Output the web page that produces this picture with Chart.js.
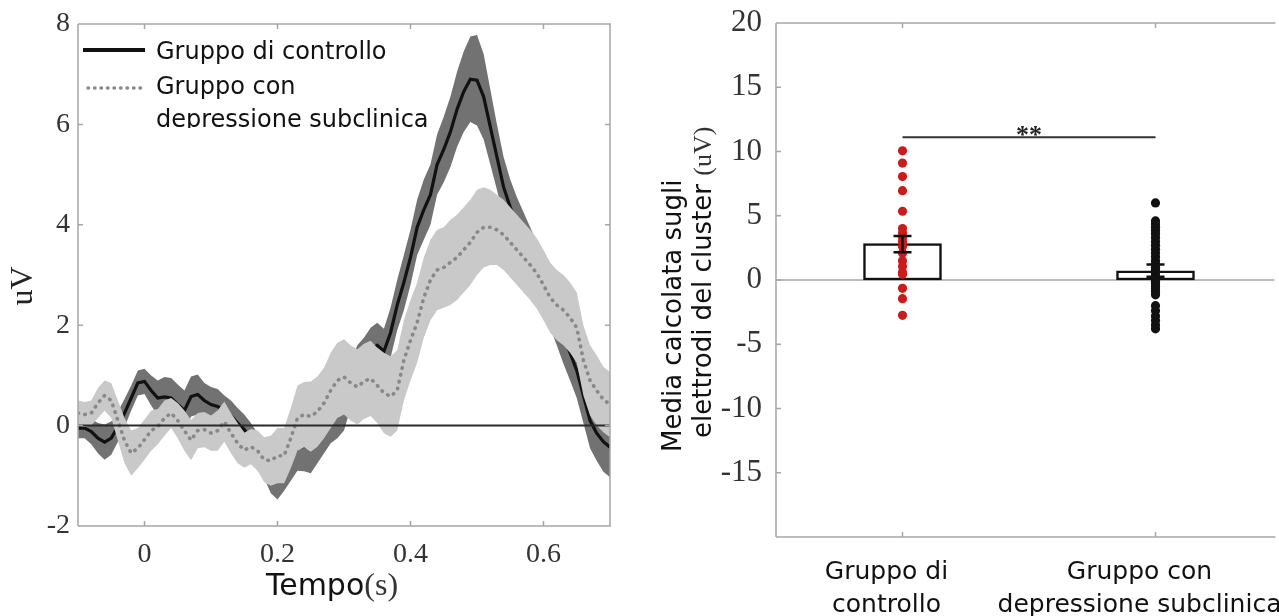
<!DOCTYPE html>
<html>
<head>
<meta charset="utf-8">
<script src="https://cdn.jsdelivr.net/npm/chart.js@4.4.1/dist/chart.umd.min.js"></script>
<style>
  html, body { margin: 0; padding: 0; background: #fff; overflow: hidden; }
  #wrap { position: relative; width: 1279px; height: 616px; }
  #leftBox { position: absolute; left: 0; top: 0; width: 640px; height: 616px; }
  #rightBox { position: absolute; left: 640px; top: 0; width: 639px; height: 616px; }
</style>
</head>
<body>
<div id="wrap">
  <div id="leftBox"><canvas id="erpCanvas" width="640" height="616"></canvas></div>
  <div id="rightBox"><canvas id="barCanvas" width="639" height="616"></canvas></div>
</div>
<script>
// --- ERP (left panel): samples every 10 ms from -0.10 s to 0.70 s ---
const tStart = -0.1;
const tStep = 0.01;

const ctrlMean = [
  -0.05, -0.05, -0.12, -0.25, -0.33, -0.25, -0.02, 0.25, 0.55, 0.85,
  0.88, 0.7, 0.55, 0.57, 0.55, 0.42, 0.3, 0.58, 0.62, 0.5,
  0.42, 0.38, 0.3, 0.2, 0.05, -0.08, -0.25, -0.45, -0.7, -0.95,
  -1.02, -0.85, -0.65, -0.45, -0.41, -0.45, -0.3, -0.1, 0.1, 0.2,
  0.35, 0.8, 1.15, 1.3, 1.5, 1.6, 1.48, 1.85, 2.4, 2.85,
  3.35, 3.95, 4.3, 4.6, 5.2, 5.5, 5.85, 6.3, 6.65, 6.9,
  6.88, 6.55, 5.95, 5.35, 4.75, 4.35, 4.0, 3.7, 3.4, 3.1,
  2.8, 2.5, 2.15, 1.78, 1.45, 1.1, 0.6, 0.1, -0.15, -0.32, -0.43
];
const ctrlSem = [
  0.2, 0.2, 0.25, 0.3, 0.35, 0.33, 0.3, 0.28, 0.25, 0.25,
  0.25, 0.3, 0.35, 0.4, 0.4, 0.4, 0.4, 0.4, 0.4, 0.35,
  0.35, 0.35, 0.3, 0.3, 0.3, 0.3, 0.3, 0.3, 0.35, 0.4,
  0.45, 0.45, 0.45, 0.45, 0.5, 0.5, 0.45, 0.45, 0.45, 0.45,
  0.45, 0.45, 0.45, 0.45, 0.45, 0.45, 0.45, 0.5, 0.5, 0.55,
  0.55, 0.55, 0.6, 0.6, 0.6, 0.65, 0.7, 0.75, 0.8, 0.85,
  0.9, 0.85, 0.75, 0.65, 0.6, 0.55, 0.55, 0.55, 0.55, 0.55,
  0.55, 0.55, 0.55, 0.55, 0.55, 0.55, 0.55, 0.55, 0.55, 0.6, 0.6
];
const depMean = [
  0.25, 0.22, 0.25, 0.45, 0.6, 0.5, 0.1, -0.3, -0.55, -0.45,
  -0.28, -0.1, -0.02, 0.15, 0.25, 0.1, -0.1, -0.29, -0.1, -0.08,
  -0.15, -0.1, 0.08, -0.15, -0.35, -0.49, -0.42, -0.5, -0.68, -0.7,
  -0.6, -0.6, -0.25, 0.15, 0.22, 0.18, 0.28, 0.45, 0.7, 0.9,
  0.97, 0.85, 0.77, 0.88, 0.94, 0.8, 0.65, 0.58, 0.7, 1.3,
  1.7, 2.05, 2.55, 2.9, 3.1, 3.15, 3.25, 3.35, 3.5, 3.65,
  3.85, 3.95, 3.95, 3.9, 3.8, 3.65, 3.5, 3.35, 3.2, 3.03,
  2.8, 2.55, 2.4, 2.3, 2.15, 1.95, 1.3, 0.9, 0.7, 0.52, 0.42
];
const depSem = [
  0.25, 0.25, 0.25, 0.3, 0.3, 0.35, 0.4, 0.45, 0.45, 0.4,
  0.4, 0.4, 0.35, 0.35, 0.3, 0.35, 0.4, 0.4, 0.35, 0.35,
  0.35, 0.4, 0.4, 0.4, 0.4, 0.35, 0.35, 0.4, 0.45, 0.5,
  0.55, 0.55, 0.6, 0.65, 0.65, 0.7, 0.7, 0.7, 0.75, 0.75,
  0.75, 0.75, 0.75, 0.75, 0.75, 0.75, 0.8, 0.8, 0.8, 0.8,
  0.8, 0.8, 0.8, 0.8, 0.8, 0.8, 0.85, 0.85, 0.85, 0.85,
  0.85, 0.8, 0.75, 0.7, 0.7, 0.7, 0.7, 0.7, 0.7, 0.7,
  0.7, 0.7, 0.7, 0.7, 0.7, 0.7, 0.7, 0.7, 0.7, 0.65, 0.65
];
const erpTicksX = [0, 0.2, 0.4, 0.6];
const erpTicksY = [-2, 0, 2, 4, 6, 8];
const erpLegend = ['Gruppo di controllo', 'Gruppo con', 'depressione subclinica'];

// --- Bar panel (right) ---
const groupLabels = [['Gruppo di', 'controllo'], ['Gruppo con', 'depressione subclinica']];
const barMeans = [2.83, 0.72];
const errLow = [2.15, 0.25];
const errHigh = [3.42, 1.2];
const ctrlPoints = [10.05, 9.1, 8.05, 6.95, 5.35, 4.0, 3.65, 3.3, 3.0, 2.6, 2.1, 1.5, 1.05, 0.6, 0.45, -0.65, -1.45, -2.75];
const depPoints = [6.0, 4.6, 4.35, 4.1, 3.85, 3.6, 3.3, 3.0, 2.7, 2.4, 2.1, 1.8, 1.5, 1.25, 1.0, 0.8, 0.55, 0.3, 0.1,
  -0.1, -0.3, -0.5, -0.7, -0.9, -1.15, -2.0, -2.4, -2.8, -3.15, -3.5, -3.8];
const barTicksY = [-20, -15, -10, -5, 0, 5, 10, 15, 20];
const barTickLabels = ['', '-15', '-10', '-5', '0', '5', '10', '15', '20'];
const sigY = 11.1;
const sigText = '**';

const SERIF = '"Liberation Serif", "Times New Roman", serif';
const SANS = '"DejaVu Sans", sans-serif';
const FRAME = '#a6a6a6';

const times = ctrlMean.map((_, i) => +(tStart + i * tStep).toFixed(2));
const toPts = vals => vals.map((v, i) => ({ x: times[i], y: v }));
const ctrlUp = ctrlMean.map((v, i) => v + ctrlSem[i]);
const ctrlLo = ctrlMean.map((v, i) => v - ctrlSem[i]);
const depUp = depMean.map((v, i) => v + depSem[i]);
const depLo = depMean.map((v, i) => v - depSem[i]);

const clear = 'rgba(0,0,0,0)';

// box + inward ticks, shared by both panels
function drawFrame(chart, sides) {
  const { ctx, chartArea: a } = chart;
  const xs = chart.scales.x, ys = chart.scales.y;
  ctx.save();
  ctx.strokeStyle = FRAME;
  ctx.lineWidth = 1.5;
  ctx.beginPath();
  if (sides.top) { ctx.moveTo(a.left, a.top); ctx.lineTo(a.right + 1, a.top); }
  if (sides.left) { ctx.moveTo(a.left, a.top); ctx.lineTo(a.left, a.bottom); }
  if (sides.bottom) { ctx.moveTo(a.left, a.bottom); ctx.lineTo(a.right + 1, a.bottom); }
  if (sides.right) { ctx.moveTo(a.right, a.top); ctx.lineTo(a.right, a.bottom); }
  xs.ticks.forEach(t => {
    const px = xs.getPixelForValue(t.value);
    ctx.moveTo(px, a.bottom); ctx.lineTo(px, a.bottom - 5);
    ctx.moveTo(px, a.top); ctx.lineTo(px, a.top + 5);
  });
  ys.ticks.forEach(t => {
    const py = ys.getPixelForValue(t.value);
    ctx.moveTo(a.left, py); ctx.lineTo(a.left + 5, py);
    if (sides.right) { ctx.moveTo(a.right, py); ctx.lineTo(a.right - 5, py); }
  });
  ctx.stroke();
  ctx.restore();
}

const erpDecor = {
  id: 'erpDecor',
  afterDraw(chart) {
    const { ctx } = chart;
    drawFrame(chart, { top: true, left: true, bottom: true, right: true });

    // legend
    ctx.save();
    ctx.strokeStyle = '#111';
    ctx.lineWidth = 4;
    ctx.beginPath(); ctx.moveTo(83, 50); ctx.lineTo(145, 50); ctx.stroke();
    ctx.strokeStyle = '#8a8a8a';
    ctx.lineWidth = 3.4;
    ctx.lineCap = 'round';
    ctx.setLineDash([0.5, 6]);
    ctx.beginPath(); ctx.moveTo(88, 88); ctx.lineTo(145, 88); ctx.stroke();
    ctx.setLineDash([]);
    ctx.beginPath(); ctx.rect(0, 0, 640, 128); ctx.clip();
    ctx.fillStyle = '#111';
    ctx.font = '24px ' + SANS;
    ctx.textAlign = 'left';
    ctx.textBaseline = 'alphabetic';
    ctx.fillText(erpLegend[0], 156, 59);
    ctx.fillText(erpLegend[1], 156, 94);
    ctx.fillText(erpLegend[2], 156, 127);
    ctx.restore();

    // x title "Tempo(s)"
    ctx.save();
    ctx.fillStyle = '#111';
    ctx.textBaseline = 'alphabetic';
    ctx.font = '30px ' + SANS;
    const w1 = ctx.measureText('Tempo').width;
    ctx.font = '32px ' + SERIF;
    const w2 = ctx.measureText('(s)').width;
    const x0 = 332 - (w1 + w2) / 2;
    ctx.font = '30px ' + SANS;
    ctx.textAlign = 'left';
    ctx.fillText('Tempo', x0, 595);
    ctx.fillStyle = '#333';
    ctx.font = '32px ' + SERIF;
    ctx.fillText('(s)', x0 + w1, 595);
    ctx.restore();

    // y title
    ctx.save();
    ctx.translate(32, 286);
    ctx.rotate(-Math.PI / 2);
    ctx.fillStyle = '#222';
    ctx.font = '32px ' + SERIF;
    ctx.textAlign = 'center';
    ctx.textBaseline = 'alphabetic';
    ctx.fillText('uV', 0, 0);
    ctx.restore();
  }
};

new Chart(document.getElementById('erpCanvas'), {
  type: 'line',
  data: {
    datasets: [
      { data: toPts(ctrlUp), borderColor: clear, borderWidth: 1, pointRadius: 0, fill: '+1', backgroundColor: '#727272', order: 6 },
      { data: toPts(ctrlLo), borderColor: clear, borderWidth: 1, pointRadius: 0, fill: false, order: 6 },
      { data: toPts(ctrlMean), borderColor: '#111', borderWidth: 3.2, pointRadius: 0, fill: false, order: 5 },
      { data: toPts(depUp), borderColor: clear, borderWidth: 1, pointRadius: 0, fill: '+1', backgroundColor: '#c9c9c9', order: 4 },
      { data: toPts(depLo), borderColor: clear, borderWidth: 1, pointRadius: 0, fill: false, order: 4 },
      { data: toPts(depMean), borderColor: '#888', borderWidth: 3.6, borderDash: [0.5, 6.5], borderCapStyle: 'round', pointRadius: 0, fill: false, order: 3 },
      { data: [{ x: tStart, y: 0 }, { x: 0.7, y: 0 }], borderColor: '#2a2a2a', borderWidth: 2, pointRadius: 0, fill: false, order: 1 }
    ]
  },
  options: {
    responsive: false,
    animation: false,
    events: [],
    devicePixelRatio: 1,
    layout: { padding: { left: 0, top: 24, right: 30, bottom: 0 } },
    plugins: { legend: { display: false }, tooltip: { enabled: false } },
    scales: {
      x: {
        type: 'linear', min: -0.1, max: 0.7,
        grid: { display: false, drawTicks: false },
        border: { display: false },
        afterBuildTicks: s => { s.ticks = erpTicksX.map(v => ({ value: v })); },
        afterFit: s => { s.height = 90; s.paddingLeft = 0; s.paddingRight = 0; },
        ticks: { color: '#333', padding: 12, maxRotation: 0, autoSkip: false, font: { family: SERIF, size: 28 }, callback: v => String(v) }
      },
      y: {
        min: -2, max: 8,
        grid: { display: false, drawTicks: false },
        border: { display: false },
        afterBuildTicks: s => { s.ticks = erpTicksY.map(v => ({ value: v })); },
        afterFit: s => { s.width = 78; s.paddingTop = 0; s.paddingBottom = 0; },
        ticks: { color: '#333', padding: 8, font: { family: SERIF, size: 28 }, callback: v => String(v) }
      }
    }
  },
  plugins: [erpDecor]
});

// --- right panel ---
const barDecor = {
  id: 'barDecor',
  beforeDatasetsDraw(chart) {
    const { ctx, chartArea: a, scales: { y } } = chart;
    const py = y.getPixelForValue(0);
    ctx.save();
    ctx.strokeStyle = FRAME;
    ctx.lineWidth = 1.5;
    ctx.beginPath(); ctx.moveTo(a.left, py); ctx.lineTo(a.right, py); ctx.stroke();
    ctx.restore();
  },
  afterDatasetsDraw(chart) {
    const { ctx, scales: { x, y } } = chart;
    ctx.save();
    ctx.strokeStyle = '#111';
    ctx.lineWidth = 2.5;
    barMeans.forEach((m, i) => {
      const px = x.getPixelForValue(i + 1);
      const lo = y.getPixelForValue(errLow[i]);
      const hi = y.getPixelForValue(errHigh[i]);
      ctx.beginPath();
      ctx.moveTo(px, lo); ctx.lineTo(px, hi);
      ctx.moveTo(px - 9, lo); ctx.lineTo(px + 9, lo);
      ctx.moveTo(px - 9, hi); ctx.lineTo(px + 9, hi);
      ctx.stroke();
    });
    ctx.fillStyle = '#222';
    ctx.font = 'bold 26px ' + SERIF;
    ctx.textAlign = 'center';
    ctx.textBaseline = 'alphabetic';
    ctx.fillText(sigText, x.getPixelForValue(1.5), y.getPixelForValue(sigY) + 6);
    ctx.restore();
  },
  afterDraw(chart) {
    const { ctx } = chart;
    drawFrame(chart, { top: true, left: true, bottom: true, right: false });
    ctx.save();
    ctx.fillStyle = '#111';
    ctx.textAlign = 'left';
    ctx.textBaseline = 'alphabetic';
    ctx.translate(41, 452);
    ctx.rotate(-Math.PI / 2);
    ctx.font = '26px ' + SANS;
    ctx.fillText('Media calcolata sugli', 0, 0);
    ctx.restore();
    ctx.save();
    ctx.fillStyle = '#111';
    ctx.textAlign = 'left';
    ctx.textBaseline = 'alphabetic';
    ctx.translate(71, 438);
    ctx.rotate(-Math.PI / 2);
    ctx.font = '26px ' + SANS;
    const w = ctx.measureText('elettrodi del cluster ').width;
    ctx.fillText('elettrodi del cluster ', 0, 0);
    ctx.fillStyle = '#333';
    ctx.font = '26px ' + SERIF;
    ctx.fillText('(uV)', w, 0);
    ctx.restore();
  }
};

new Chart(document.getElementById('barCanvas'), {
  type: 'bar',
  data: {
    datasets: [
      { type: 'bar', data: barMeans.map((m, i) => ({ x: i + 1, y: m })), backgroundColor: '#fff', borderColor: '#111', borderWidth: 2.5, borderSkipped: false, barThickness: 78, order: 4 },
      { type: 'scatter', data: ctrlPoints.map(v => ({ x: 1, y: v })), backgroundColor: '#c81d1d', borderWidth: 0, pointRadius: 4.6, order: 3 },
      { type: 'scatter', data: depPoints.map(v => ({ x: 2, y: v })), backgroundColor: '#111', borderWidth: 0, pointRadius: 4.6, order: 2 },
      { type: 'line', data: [{ x: 1, y: sigY }, { x: 2, y: sigY }], borderColor: '#333', borderWidth: 2, pointRadius: 0, fill: false, order: 1 }
    ]
  },
  options: {
    responsive: false,
    animation: false,
    events: [],
    devicePixelRatio: 1,
    layout: { padding: { left: 0, top: 23, right: 0, bottom: 0 } },
    plugins: { legend: { display: false }, tooltip: { enabled: false } },
    scales: {
      x: {
        type: 'linear', min: 0.5, max: 2.47, offset: false,
        grid: { display: false, drawTicks: false },
        border: { display: false },
        afterBuildTicks: s => { s.ticks = [1, 2].map(v => ({ value: v })); },
        afterFit: s => { s.height = 79; s.paddingLeft = 0; s.paddingRight = 0; },
        ticks: {
          color: '#111', padding: 19, labelOffset: -16, maxRotation: 0, minRotation: 0, autoSkip: false,
          font: { family: SANS, size: 25, lineHeight: 1.32 },
          callback: v => groupLabels[v - 1]
        }
      },
      y: {
        min: -20, max: 20,
        grid: { display: false, drawTicks: false },
        border: { display: false },
        afterBuildTicks: s => { s.ticks = barTicksY.map(v => ({ value: v })); },
        afterFit: s => { s.width = 136; s.paddingTop = 0; s.paddingBottom = 0; },
        ticks: { color: '#333', padding: 14, font: { family: SERIF, size: 31 }, callback: (v, i) => barTickLabels[i] }
      }
    }
  },
  plugins: [barDecor]
});
</script>
</body>
</html>
